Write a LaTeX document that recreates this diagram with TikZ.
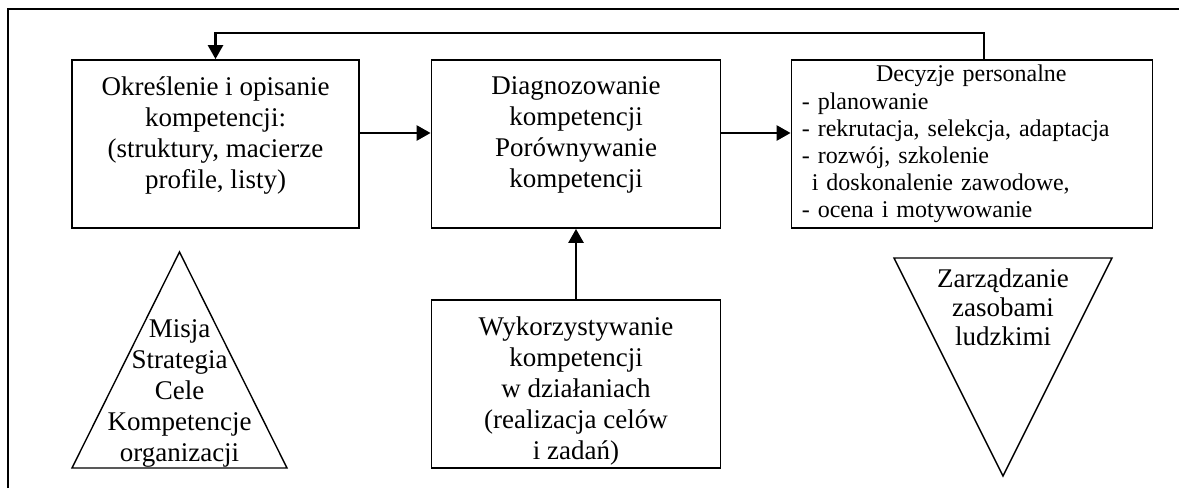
\documentclass[tikz,border=0pt]{standalone}
\usepackage{fontspec}
\setmainfont{Liberation Serif}
\usetikzlibrary{arrows.meta}
\begin{document}
\begin{tikzpicture}[x=1pt,y=-1pt,
  frame/.style={line width=1.5pt},
  box/.style={draw, line width=1.8pt, inner sep=0pt},
  tri/.style={draw, line width=1.4pt, line join=miter},
  conn/.style={line width=2.6pt, -{Triangle[length=14pt,width=15pt]}},
  big/.style={font=\fontsize{27}{31}\selectfont, align=center, inner sep=0pt},
  small/.style={font=\fontsize{24}{27.2}\selectfont, align=left, inner sep=0pt}]
\useasboundingbox (0,0) rectangle (1179,488);

% outer frame (only the top and left edges fall inside the page)
\draw[frame] (8,488) -- (8,9) -- (1179,9);

% process boxes
\node[box, minimum width=287pt, minimum height=168pt] (b1) at (215.5,144) {};
\node[box, minimum width=289pt, minimum height=168pt] (b2) at (576,144) {};
\node[box, minimum width=361pt, minimum height=168pt] (b3) at (972,144) {};
\node[box, minimum width=289pt, minimum height=168pt] (b4) at (576,384) {};

\node[big, anchor=north] (t1) at ([yshift=-17pt]b1.north)
  {Określenie i opisanie\\kompetencji:\\(struktury, macierze\\profile, listy)};
\node[big, anchor=north] (t2) at ([yshift=-17pt]b2.north)
  {Diagnozowanie\\kompetencji\\Porównywanie\\kompetencji};
\node[small, anchor=north west, text width=339pt] (t3) at ([xshift=11pt,yshift=-6pt]b3.north west)
  {\makebox[339pt]{Decyzje personalne}\\- planowanie\\- rekrutacja, selekcja, adaptacja\\- rozwój, szkolenie\\\hspace*{10pt}i doskonalenie zawodowe,\\- ocena i motywowanie};
\node[big, anchor=north] (t4) at ([yshift=-17pt]b4.north)
  {Wykorzystywanie\\kompetencji\\w działaniach\\(realizacja celów\\i zadań)};

% triangles
\coordinate (p1) at (179.5,252);
\coordinate (p2) at (287,468);
\coordinate (p3) at (72,468);
\draw[tri] (p1) -- (p2) -- (p3) -- cycle;
\node[big, anchor=north] (t5) at (179.5,319)
  {Misja\\Strategia\\Cele\\Kompetencje\\organizacji};

\coordinate (q1) at (894,258);
\coordinate (q2) at (1112,258);
\coordinate (q3) at (1003,476);
\draw[tri] (q1) -- (q2) -- (q3) -- cycle;
\node[big, anchor=north, font=\fontsize{27}{29}\selectfont] (t6) at (1003,269)
  {Zarządzanie\\zasobami\\ludzkimi};

% connectors
\draw[conn] ([yshift=11pt]b1.east) -- ([yshift=11pt]b2.west);
\draw[conn] ([yshift=11pt]b2.east) -- ([yshift=11pt]b3.west);
\draw[conn] (b4.north) -- (b2.south);
\coordinate (fb) at (984,33);
\draw[conn] (fb |- b3.north) -- (fb) -| (b1.north);
\end{tikzpicture}
\end{document}
